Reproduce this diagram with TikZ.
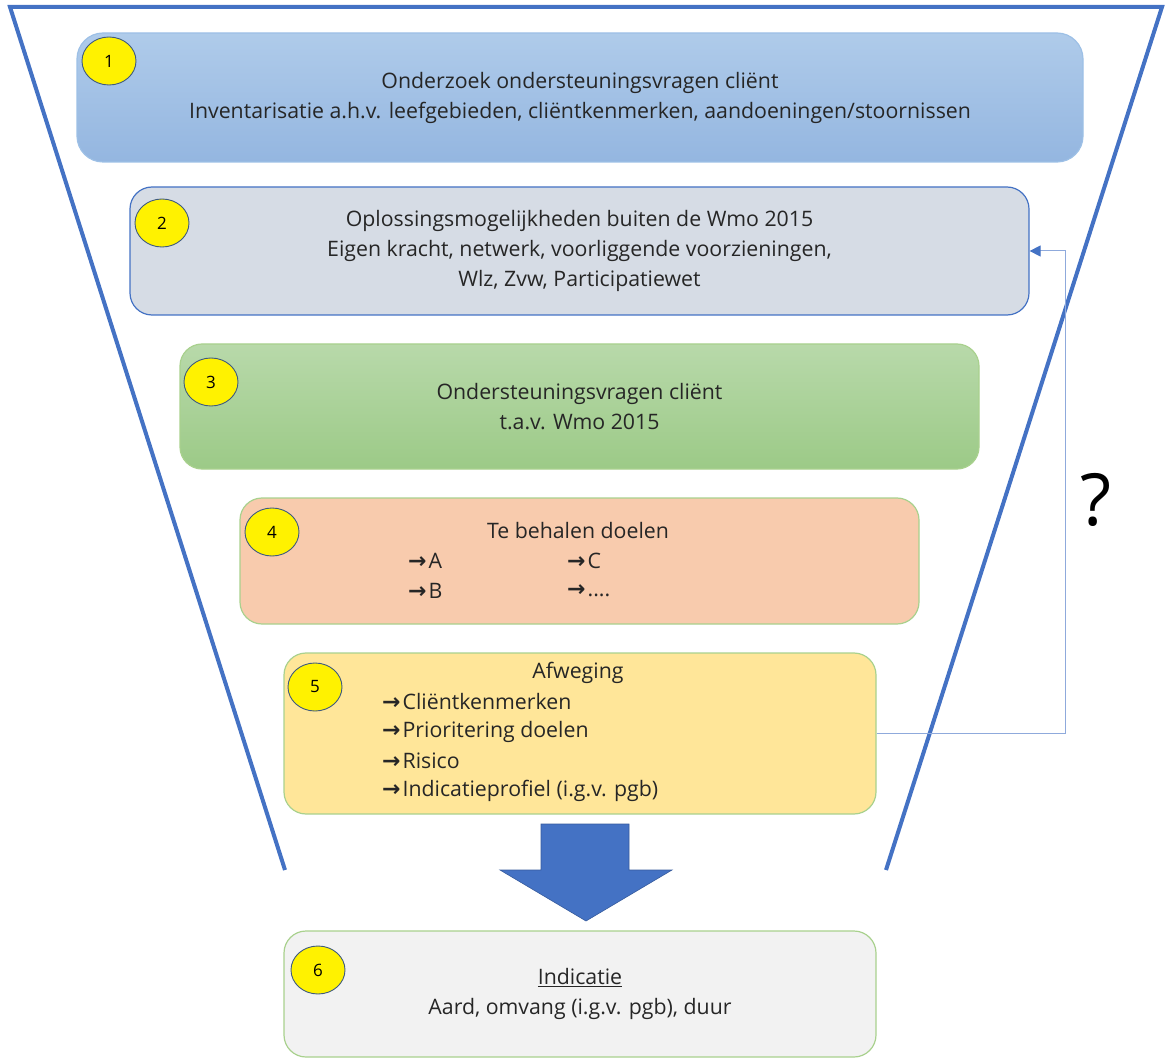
\documentclass[tikz,border=0pt]{standalone}
\usepackage{fontspec}
\setmainfont{Open Sans}
\newfontfamily\arrfont{DejaVu Sans}
\usetikzlibrary{arrows.meta,shapes.geometric}
\definecolor{funnelblue}{HTML}{4472C4}
\definecolor{connblue}{HTML}{8FAADC}
\definecolor{txt}{HTML}{262626}
\definecolor{bOneTop}{HTML}{AFCBEA}
\definecolor{bOneBot}{HTML}{94B6E0}
\definecolor{bOneLine}{HTML}{9DC0E6}
\definecolor{bTwoFill}{HTML}{D6DCE5}
\definecolor{bThreeTop}{HTML}{B8D9AA}
\definecolor{bThreeBot}{HTML}{9CCA87}
\definecolor{greenline}{HTML}{A9D18E}
\definecolor{bFourFill}{HTML}{F8CBAD}
\definecolor{bFiveFill}{HTML}{FFE699}
\definecolor{bSixFill}{HTML}{F2F2F2}
\definecolor{numline}{HTML}{3E5A80}
\newcommand{\arw}{{\arrfont\bfseries\fontsize{22}{22}\selectfont →}\hspace{2pt}}
\begin{document}
\begin{tikzpicture}[x=1pt,y=-1pt,
  stagebox/.style={rectangle, rounded corners=22pt, inner sep=0pt, align=center,
    text=txt, font=\fontsize{21.3}{30}\selectfont, line width=1.2pt},
  numdot/.style={ellipse, fill=yellow, draw=numline, line width=0.9pt,
    minimum width=54pt, minimum height=48pt, inner sep=0pt, font=\fontsize{17}{17}\selectfont, text=black},
  plain/.style={inner sep=0pt, text=txt, font=\fontsize{21.3}{30}\selectfont},
  funnelline/.style={draw=funnelblue, line width=4pt, line join=miter},
  conn/.style={draw=connblue, line width=1pt},
  bigarrow/.style={fill=funnelblue, draw=funnelblue!80!black, line width=0.6pt}
]
\useasboundingbox (0,0) rectangle (1171,1059);

% funnel
\draw[funnelline] (285,870) -- (10,7) -- (1162,7) -- (886,870);

% boxes
\node[stagebox, top color=bOneTop, bottom color=bOneBot, draw=bOneLine, minimum width=1006pt, minimum height=129pt, rounded corners=26pt]
  (b1) at (580,97.5) {Onderzoek ondersteuningsvragen cliënt\\Inventarisatie a.h.v. leefgebieden, cliëntkenmerken, aandoeningen/stoornissen};
\node[stagebox, fill=bTwoFill, draw=funnelblue, minimum width=899pt, minimum height=128pt]
  (b2) at (579.5,251) {Oplossingsmogelijkheden buiten de Wmo 2015\\Eigen kracht, netwerk, voorliggende voorzieningen,\\Wlz, Zvw, Participatiewet};
\node[stagebox, top color=bThreeTop, bottom color=bThreeBot, draw=greenline, minimum width=799pt, minimum height=125pt]
  (b3) at (579.5,406.5) {Ondersteuningsvragen cliënt\\t.a.v. Wmo 2015};
\node[stagebox, fill=bFourFill, draw=greenline, minimum width=679pt, minimum height=126pt]
  (b4) at (579.5,561) {};
\node[stagebox, fill=bFiveFill, draw=greenline, minimum width=592pt, minimum height=161pt]
  (b5) at (580,733.5) {};
\node[stagebox, fill=bSixFill, draw=greenline, minimum width=592pt, minimum height=126pt]
  (b6) at (580,994) {\underline{Indicatie}\\Aard, omvang (i.g.v. pgb), duur};

% box 4 text
\node[plain] (t4) at (578,531) {Te behalen doelen};
\node[plain, anchor=west] (t4a) at (408,561) {\arw A};
\node[plain, anchor=west] (t4b) at (408,591) {\arw B};
\node[plain, anchor=west] (t4c) at (567,561) {\arw C};
\node[plain, anchor=west] (t4d) at (567,591) {\arw ....};

% box 5 text
\node[plain] (t5) at (578,673) {Afweging};
\node[plain, anchor=west] (t5a) at (382,702) {\arw Cliëntkenmerken};
\node[plain, anchor=west] (t5b) at (382,732) {\arw Prioritering doelen};
\node[plain, anchor=west] (t5c) at (382,761) {\arw Risico};
\node[plain, anchor=west] (t5d) at (382,791) {\arw Indicatieprofiel (i.g.v. pgb)};

% number dots
\node[numdot] (n1) at (109,61) {1};
\node[numdot] (n2) at (162,223) {2};
\node[numdot] (n3) at (211,382) {3};
\node[numdot] (n4) at (272,532) {4};
\node[numdot] (n5) at (315,687) {5};
\node[numdot] (n6) at (318,970) {6};

% feedback connector
\coordinate (bend) at (1065,0);
\draw[conn, -{Triangle[length=11pt,width=11pt,color=funnelblue]}]
  (b5.east) -- (b5.east -| bend) -- (bend |- b2.east) -- (b2.east);
\node[inner sep=0pt, text=black, font=\fontsize{72}{72}\selectfont] (q) at (1096,500) {?};

% big arrow
\draw[bigarrow] (541,824) -- (629,824) -- (629,870) -- (672,870) -- (586,921) -- (500,870) -- (541,870) -- cycle;
\end{tikzpicture}
\end{document}
